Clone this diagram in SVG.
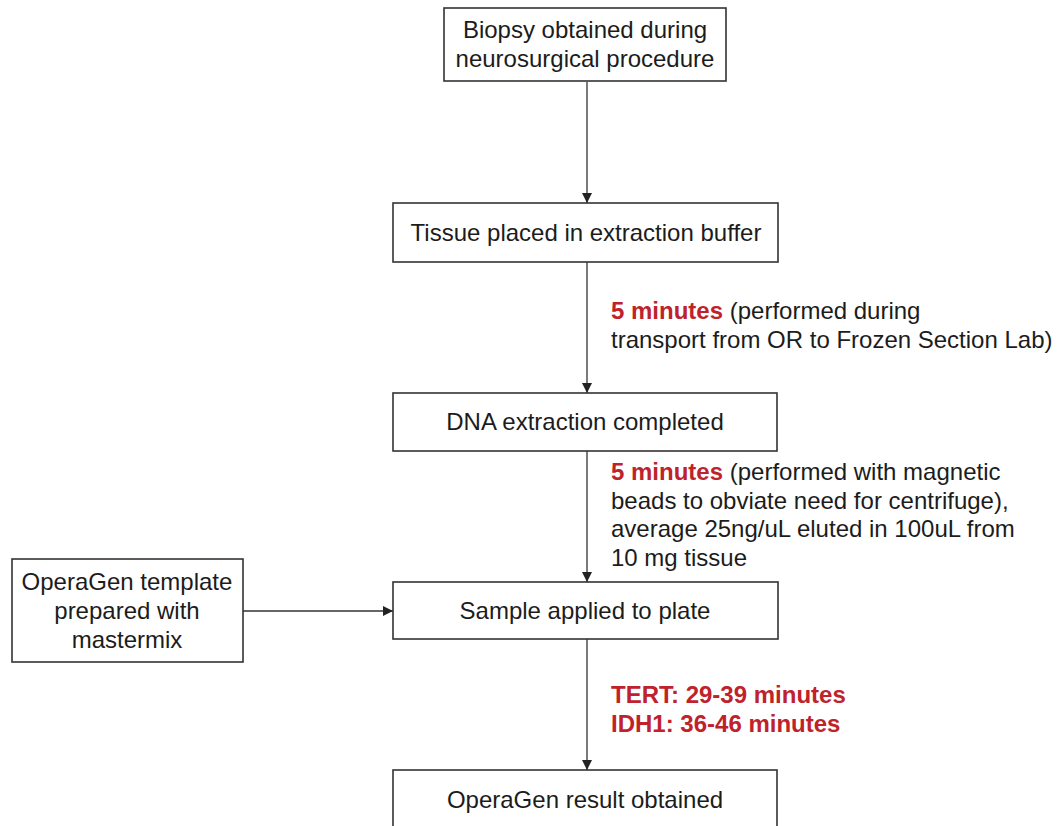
<svg xmlns="http://www.w3.org/2000/svg" width="1060" height="826" viewBox="0 0 1060 826">
<style>
.box{fill:#fff;stroke:#333;stroke-width:1.6}
.t{font-family:"Liberation Sans",Arial,Helvetica,sans-serif;font-size:24px;fill:#1c1c1c}
.c{text-anchor:middle}
.red{fill:#c0222c;font-weight:bold}
.con{stroke:#333;stroke-width:1.3;fill:none}
</style>
<defs>
<marker id="ah" viewBox="0 0 10 10" refX="10" refY="5" markerWidth="10" markerHeight="10" markerUnits="userSpaceOnUse" orient="auto">
<path d="M0,0 L10,5 L0,10 Z" fill="#222"/>
</marker>
</defs>
<rect width="1060" height="826" fill="#fff"/>
<g id="connectors">
<line class="con" x1="587" y1="82" x2="587" y2="203" marker-end="url(#ah)"/>
<line class="con" x1="587" y1="262" x2="587" y2="393" marker-end="url(#ah)"/>
<line class="con" x1="587" y1="451" x2="587" y2="582" marker-end="url(#ah)"/>
<line class="con" x1="587" y1="639" x2="587" y2="770" marker-end="url(#ah)"/>
<line class="con" x1="243" y1="611" x2="393" y2="611" marker-end="url(#ah)"/>
</g>
<g id="n1">
<rect class="box" x="444" y="8" width="282" height="73"/>
<text class="t c" x="585" y="38">Biopsy obtained during</text>
<text class="t c" x="585" y="67">neurosurgical procedure</text>
</g>
<g id="n2">
<rect class="box" x="393" y="203" width="385" height="59"/>
<text class="t c" x="586" y="241">Tissue placed in extraction buffer</text>
</g>
<g id="lbl1">
<text class="t" x="611" y="319"><tspan class="red">5 minutes</tspan> (performed during</text>
<text class="t" x="611" y="348">transport from OR to Frozen Section Lab)</text>
</g>
<g id="n3">
<rect class="box" x="393" y="393" width="384" height="58"/>
<text class="t c" x="585" y="430">DNA extraction completed</text>
</g>
<g id="lbl2">
<text class="t" x="611" y="480"><tspan class="red">5 minutes</tspan> (performed with magnetic</text>
<text class="t" x="611" y="509">beads to obviate need for centrifuge),</text>
<text class="t" x="611" y="537">average 25ng/uL eluted in 100uL from</text>
<text class="t" x="611" y="566">10 mg tissue</text>
</g>
<g id="n4">
<rect class="box" x="12" y="559" width="231" height="103"/>
<text class="t c" x="127" y="590">OperaGen template</text>
<text class="t c" x="127" y="619">prepared with</text>
<text class="t c" x="127" y="648">mastermix</text>
</g>
<g id="n5">
<rect class="box" x="393" y="582" width="385" height="57"/>
<text class="t c" x="585" y="619">Sample applied to plate</text>
</g>
<g id="lbl3">
<text class="t red" x="611" y="703">TERT: 29-39 minutes</text>
<text class="t red" x="611" y="732">IDH1: 36-46 minutes</text>
</g>
<g id="n6">
<rect class="box" x="393" y="770" width="384" height="70"/>
<text class="t c" x="585" y="808">OperaGen result obtained</text>
</g>
</svg>
